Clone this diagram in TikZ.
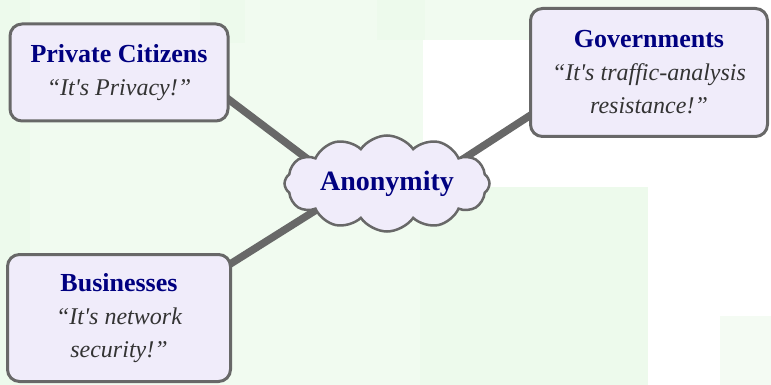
\documentclass[tikz,border=0pt]{standalone}
\usepackage{fontspec}
\setmainfont{Liberation Serif}
\usetikzlibrary{shapes.symbols,backgrounds}
\definecolor{boxfill}{HTML}{F0ECFA}
\definecolor{edgegray}{HTML}{686868}
\definecolor{navyblue}{HTML}{000080}
\definecolor{quotegray}{HTML}{333333}
\definecolor{bgA}{HTML}{F1FBF0}
\definecolor{bgB}{HTML}{EDFAEC}
\definecolor{bgC}{HTML}{F4FBF3}
\newcommand\partyhead[1]{{\fontsize{26}{33}\selectfont\upshape\bfseries\color{navyblue}#1}}
\tikzset{
  party/.style={draw=edgegray, line width=3pt, fill=boxfill, rounded corners=12pt,
    inner sep=0pt, align=center, text=quotegray,
    font=\fontsize{24}{33}\selectfont\itshape},
  anoncloud/.style={cloud, draw=edgegray, line width=2.5pt, fill=boxfill,
    cloud puffs=12, cloud puff arc=110, cloud ignores aspect, inner sep=0pt,
    minimum width=205pt, minimum height=96pt,
    font=\fontsize{28}{33}\selectfont\bfseries, text=navyblue},
  link/.style={draw=edgegray, line width=7.5pt, shorten <=-12pt},
}
\begin{document}
\begin{tikzpicture}[x=1pt,y=-1pt]
\useasboundingbox (0,0) rectangle (771,385);
\node[party, minimum width=218pt, minimum height=97pt] (pc) at (119,72.5)
  {\partyhead{Private Citizens}\\“It\textquotesingle s Privacy!”};
\node[party, minimum width=237pt, minimum height=128pt] (gov) at (649,72.5)
  {\partyhead{Governments}\\“It\textquotesingle s traffic-analysis\\resistance!”};
\node[party, minimum width=223pt, minimum height=127pt] (biz) at (119,318)
  {\partyhead{Businesses}\\“It\textquotesingle s network\\security!”};
\node[anoncloud] (anon) at (387,183.5) {Anonymity};
\coordinate (ep1) at (330,176);
\coordinate (ep2) at (440,174);
\coordinate (ep3) at (340,195);
\begin{pgfonlayer}{background}
  \fill[bgA] (0,0) rectangle (423,385);
  \fill[bgB] (0,0) rectangle (30,385);
  \fill[bgB] (200,0) rectangle (245,43);
  \fill[bgB] (377,0) rectangle (425,40);
  \fill[bgA] (425,0) rectangle (700,40);
  \fill[bgB] (420,187) rectangle (648,385);
  \fill[bgC] (720,316) rectangle (771,385);
  \draw[link] (pc.-14) -- (ep1);
  \draw[link] (gov.200.8) -- (ep2);
  \draw[link] (biz.26.4) -- (ep3);
\end{pgfonlayer}
\end{tikzpicture}
\end{document}
